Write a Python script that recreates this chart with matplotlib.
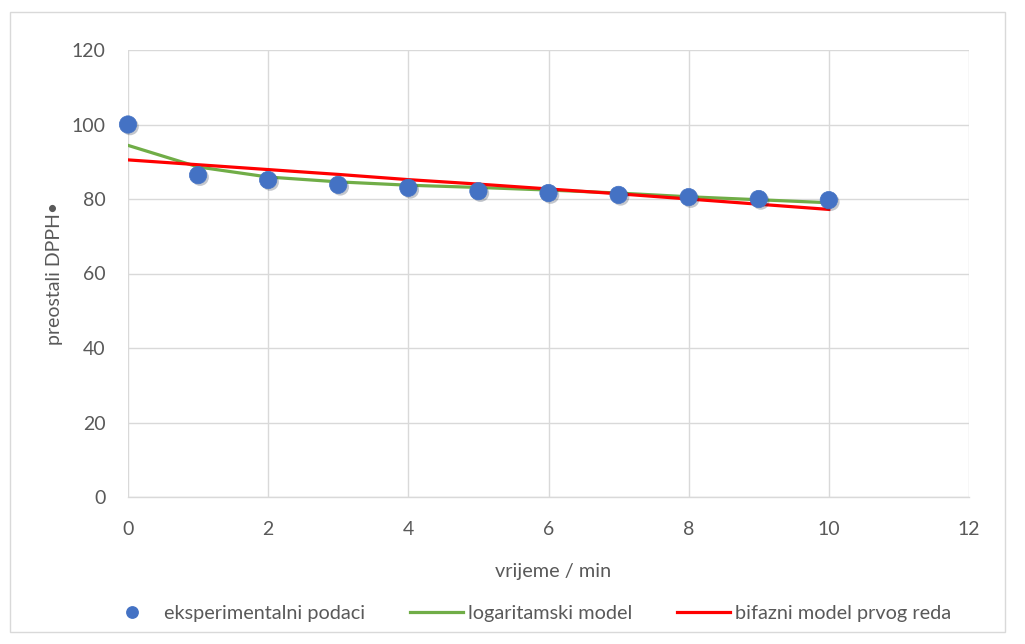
import matplotlib
matplotlib.use("Agg")
import matplotlib.pyplot as plt
from matplotlib.lines import Line2D
from matplotlib.patches import Rectangle
import matplotlib.patheffects as pe

plt.rcParams['font.family'] = ['Lato', 'DejaVu Sans']

# Data
time_min = [0, 1, 2, 3, 4, 5, 6, 7, 8, 9, 10]
experimental = [100.0, 86.4, 85.1, 83.8, 83.0, 82.1, 81.6, 81.1, 80.5, 80.0, 79.7]
log_model = [94.4, 88.6, 85.9, 84.6, 83.7, 83.1, 82.4, 81.6, 80.6, 79.8, 79.0]
biphasic_model = [90.5, 89.2, 87.9, 86.6, 85.2, 84.0, 82.7, 81.4, 80.0, 78.6, 77.2]

x_ticks = [0, 2, 4, 6, 8, 10, 12]
y_ticks = [0, 20, 40, 60, 80, 100, 120]

label_exp = "eksperimentalni podaci"
label_log = "logaritamski model"
label_bi = "bifazni model prvog reda"
x_label = "vrijeme / min"
y_label = "preostali DPPH•"

blue = "#4472C4"
green = "#70AD47"
red = "#FF0000"
text_col = "#595959"
grid_col = "#D9D9D9"

fig = plt.figure(figsize=(10.25, 6.44), dpi=100)
ax = fig.add_axes([128/1025, 1-497/644, (969-128)/1025, (497-50)/644])

ax.plot(time_min, log_model, color=green, lw=2.3, zorder=3)
ax.plot(time_min, biphasic_model, color=red, lw=2.3, zorder=4)
ax.plot(time_min, experimental, ls='none', marker='o', ms=12.5, clip_on=False,
        markerfacecolor=blue, markeredgecolor=blue, markeredgewidth=0.5, zorder=5,
        path_effects=[pe.SimplePatchShadow(offset=(1.5, -1.5), alpha=0.25), pe.Normal()])

ax.set_xlim(0, 12)
ax.set_ylim(0, 120)
ax.set_xticks(x_ticks)
ax.set_yticks(y_ticks)
ax.grid(True, color=grid_col, lw=1.0)
ax.set_axisbelow(True)
for s in ['top', 'right', 'left']:
    ax.spines[s].set_visible(False)
ax.spines['bottom'].set_color(grid_col)
ax.spines['bottom'].set_linewidth(1.0)
ax.tick_params(axis='both', length=0, labelsize=14, labelcolor=text_col)
ax.tick_params(axis='x', pad=17)
ax.tick_params(axis='y', pad=16)

ax.set_xlabel(x_label, fontsize=14.3, color=text_col)
ax.xaxis.set_label_coords((553 - 128) / (969 - 128), -0.148)
ax.set_ylabel(y_label, fontsize=14.0, color=text_col, labelpad=6.5)

handles = [
    Line2D([], [], ls='none', marker='o', ms=8.2, markerfacecolor=blue, markeredgecolor=blue),
    Line2D([], [], color=green, lw=2.3),
    Line2D([], [], color=red, lw=2.3),
]
leg = fig.legend(handles, [label_exp, label_log, label_bi], loc='center', bbox_to_anchor=(528.5/1025, 1-613/644),
           ncol=3, frameon=False, fontsize=14.3, labelcolor=text_col, handlelength=2.67,
           handletextpad=0.25, columnspacing=2.27, borderpad=0, borderaxespad=0)

fig.patches.append(Rectangle((10/1025, 1-632/644), 1005/1025-10/1025, (632-12)/644,
                             transform=fig.transFigure, fill=False, edgecolor=grid_col, lw=1.0))

fig.savefig("out.png", dpi=100)
